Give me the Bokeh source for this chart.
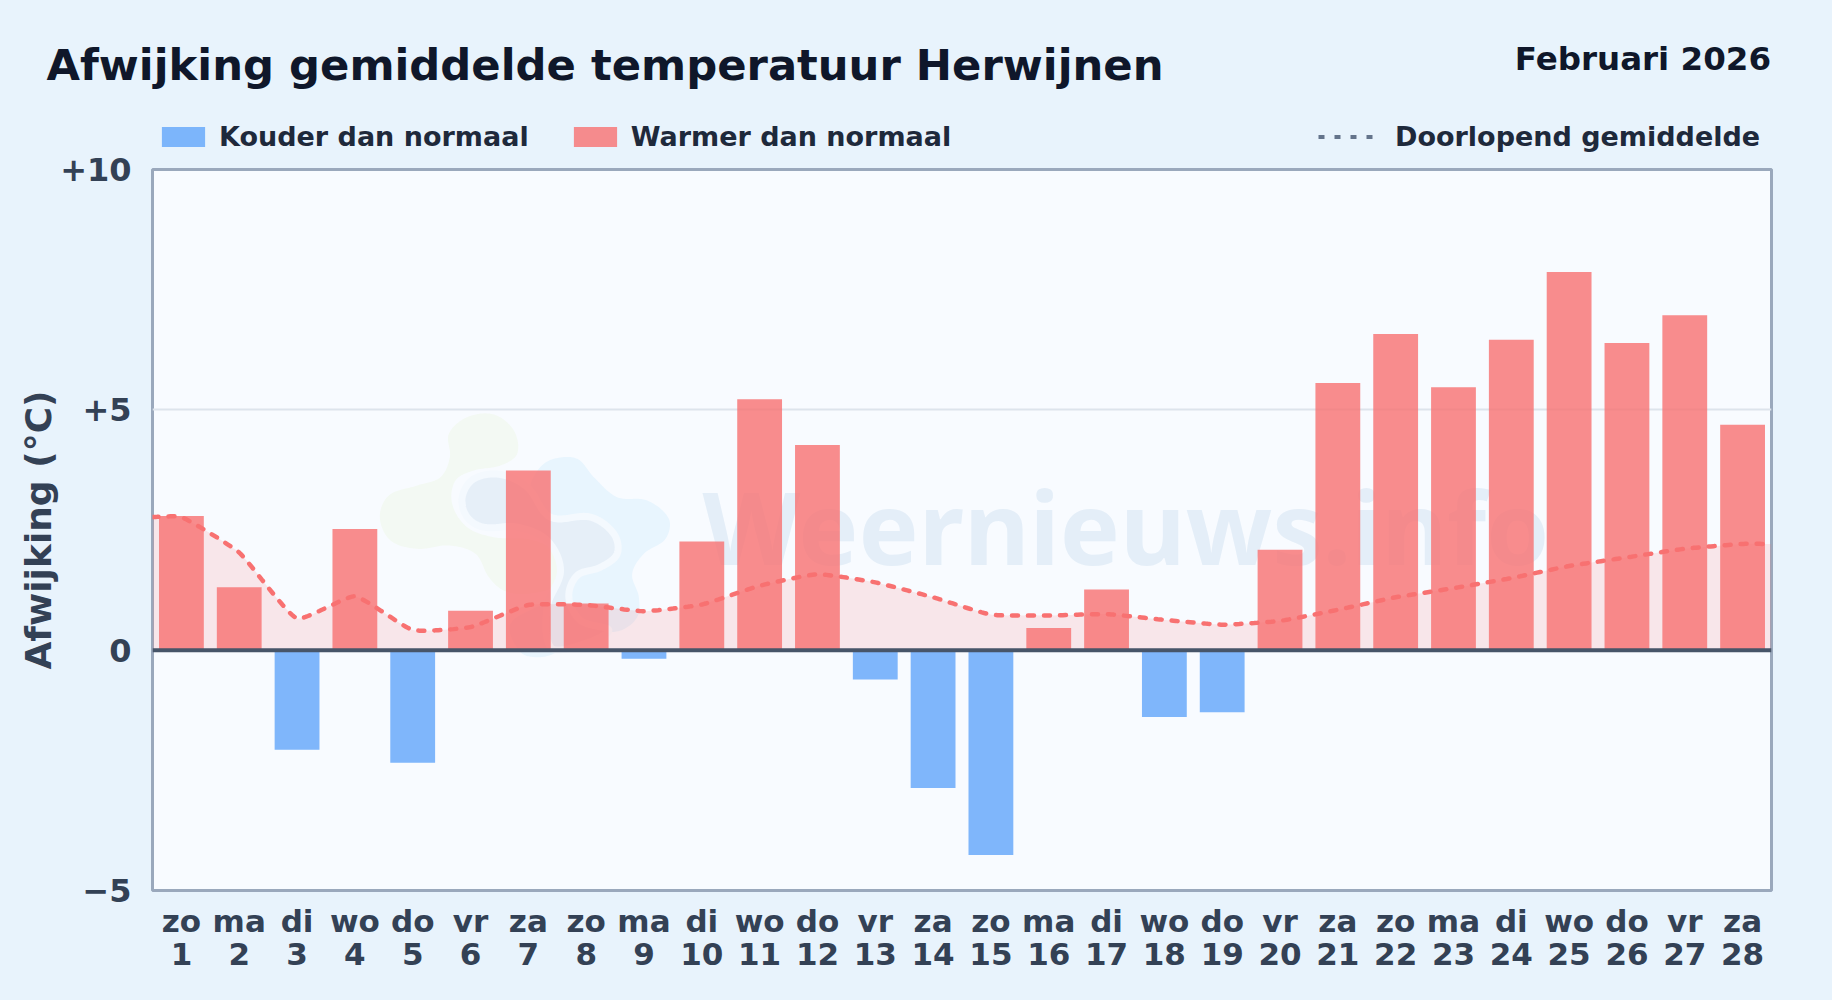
import numpy as np
from bokeh.plotting import figure
from bokeh.layouts import column
from bokeh.models import Range1d, FixedTicker, Label, Legend, LegendItem, Span, ColumnDataSource
from bokeh.embed import file_html
from bokeh.resources import INLINE

title_text = "Afwijking gemiddelde temperatuur Herwijnen"
period_text = "Februari 2026"
y_label = "Afwijking (°C)"
watermark_text = "Weernieuws.info"
legend_cold = "Kouder dan normaal"
legend_warm = "Warmer dan normaal"
legend_mean = "Doorlopend gemiddelde"
weekdays = ["zo","ma","di","wo","do","vr","za"] * 4
days = list(range(1, 29))
deviation = [2.79,1.31,-2.07,2.52,-2.34,0.82,3.74,0.97,-0.18,2.26,5.22,4.27,-0.61,-2.87,
             -4.26,0.46,1.26,-1.39,-1.29,2.09,5.56,6.58,5.47,6.46,7.87,6.39,6.97,4.69]
running_mean = [2.77,2.03,0.66,1.12,0.42,0.48,0.94,0.94,0.81,0.95,1.34,1.58,1.41,1.10,
                0.74,0.72,0.75,0.63,0.53,0.61,0.84,1.10,1.29,1.50,1.75,1.93,2.11,2.21]
y_ticks = [-5, 0, 5, 10]
y_tick_labels = {"-5": "\u22125", "0": "0", "5": "+5", "10": "+10"}

PAGE = "#e8f3fc"
PLOT = "#f8fbff"
FONT = "DejaVu Sans"
HEAD = 155
OVERLAP = 15
L, R, T, B = 152.0, 1771.0, 169.0, 890.0
X0, X1, Y0, Y1 = 0.5, 28.5, -5.0, 10.0

def dx(px): return X0 + (np.asarray(px, float) - L) / (R - L) * (X1 - X0)
def dy(py): return Y1 - (np.asarray(py, float) - T) / (B - T) * (Y1 - Y0)

def spline(xs, ys, t=0.15, n=24, closed=False):
    """Chart.js style curve through the points, in pixel-like space."""
    xs, ys = np.asarray(xs, float), np.asarray(ys, float)
    m = len(xs)
    pts = np.c_[xs, ys]
    cin, cout = np.zeros_like(pts), np.zeros_like(pts)
    for i in range(m):
        a = pts[(i-1) % m] if (closed or i > 0) else pts[i]
        b = pts[i]
        c = pts[(i+1) % m] if (closed or i < m-1) else pts[i]
        d1, d2 = np.hypot(*(b-a)), np.hypot(*(c-b))
        s = d1 + d2 or 1.0
        cin[i] = b - t * d1 / s * (c-a)
        cout[i] = b + t * d2 / s * (c-a)
    out = []
    u = np.linspace(0, 1, n, endpoint=False)[:, None]
    for i in range(m if closed else m-1):
        j = (i+1) % m
        out.append((1-u)**3*pts[i] + 3*(1-u)**2*u*cout[i] + 3*(1-u)*u**2*cin[j] + u**3*pts[j])
    out = np.vstack(out + ([] if closed else [pts[-1:]]))
    return out[:, 0], out[:, 1]

# ---------- header strip: title, period, legends ----------
h = figure(width=1832, height=HEAD, x_range=Range1d(0, 1832), y_range=Range1d(HEAD, 0),
           output_backend="svg", toolbar_location=None, frame_align=False,
           min_border_left=0, min_border_right=0, min_border_top=0, min_border_bottom=0,
           margin=(0, 0, -OVERLAP, 0), styles={"position": "relative", "z-index": "2"})
h.axis.visible = False
h.grid.visible = False
h.outline_line_color = None
h.background_fill_alpha = 0
h.border_fill_alpha = 0
h.add_layout(Label(x=46, y=64, text=title_text, text_font=FONT, text_font_style="bold",
                   text_font_size="43.3px", text_color="#0f172a", text_baseline="alphabetic"))
h.add_layout(Label(x=1770.5, y=58, text=period_text, text_font=FONT, text_font_style="bold",
                   text_font_size="32.5px", text_color="#0f172a", text_baseline="alphabetic", text_align="right"))
# legend keys: the marks themselves lie outside the strip, only their keys show
key_cold = h.vbar(x=[-50], top=[-50], width=1, fill_color="#60a5fa", fill_alpha=0.8, line_color=None)
key_warm = h.vbar(x=[-50], top=[-50], width=1, fill_color="#f87171", fill_alpha=0.8, line_color=None)
key_mean = h.line(x=[-50, -40], y=[-50, -50], line_color="#64748b", line_width=4, line_dash="6 10")
common = dict(orientation="horizontal", background_fill_alpha=0, border_line_color=None, padding=0, margin=0,
              glyph_width=54, glyph_height=25, label_standoff=9, label_text_font=FONT,
              label_text_font_style="bold", label_text_font_size="27px", label_text_color="#1e293b")
h.add_layout(Legend(items=[LegendItem(label=legend_cold, renderers=[key_cold]),
                           LegendItem(label=legend_warm, renderers=[key_warm])],
                    location=(156, 3), spacing=39, **common), "center")
h.add_layout(Legend(items=[LegendItem(label=legend_mean, renderers=[key_mean])],
                    location=(1318, 3), **{**common, "glyph_width": 56, "label_standoff": 21}), "center")

# ---------- main plot ----------
TOP = HEAD - OVERLAP
p = figure(width=1832, height=1000 - TOP, frame_width=1619, frame_height=721,
           x_range=Range1d(X0, X1), y_range=Range1d(Y0, Y1),
           output_backend="svg", toolbar_location=None, frame_align=False,
           min_border_left=152, min_border_right=61, min_border_top=169 - TOP, min_border_bottom=110)
p.background_fill_color = PLOT
p.border_fill_color = PAGE
p.outline_line_color = "#9aa8bc"
p.outline_line_width = 3

p.xaxis.ticker = FixedTicker(ticks=days)
p.xaxis.major_label_overrides = {d: f"{w}\n{d}" for d, w in zip(days, weekdays)}
p.yaxis.ticker = FixedTicker(ticks=y_ticks)
p.yaxis.major_label_overrides = {int(k): v for k, v in y_tick_labels.items()}
for ax in (p.xaxis[0], p.yaxis[0]):
    ax.axis_line_color = None
    ax.major_tick_line_color = None
    ax.minor_tick_line_color = None
    ax.major_label_text_font = FONT
    ax.major_label_text_font_style = "bold"
    ax.major_label_text_color = "#334155"
p.xaxis.major_label_text_font_size = "31px"
p.xaxis.major_label_text_line_height = 0.94
p.yaxis.major_label_text_font_size = "32px"
p.xaxis.major_label_standoff = 6
p.yaxis.major_label_standoff = 15
p.yaxis.axis_label = y_label
p.yaxis.axis_label_text_font = FONT
p.yaxis.axis_label_text_font_style = "bold"
p.yaxis.axis_label_text_font_size = "36px"
p.yaxis.axis_label_text_color = "#334155"
p.yaxis.axis_label_standoff = -2
p.xgrid.visible = False
p.ygrid.ticker = FixedTicker(ticks=[5])
p.ygrid.grid_line_color = "#dde4ec"
p.ygrid.grid_line_width = 2

# watermark (decorative logo + name)
def blob(points, fill, line=None, lw=0):
    xs, ys = zip(*[(360 + a/3, 390 + b/3) for a, b in points])
    sx, sy = spline(xs, ys, t=0.35, closed=True)
    p.patch(dx(sx), dy(sy), fill_color=fill, line_color=line, line_width=lw)

blob([(265,130),(320,80),(400,72),(460,120),(470,190),(420,225),(340,240),(285,270),(275,340),(320,410),
      (400,440),(520,450),(600,500),(590,580),(500,610),(430,600),(385,560),(345,490),(265,465),(170,475),(90,450),
      (58,380),(85,315),(170,285),(240,260),(268,200)], "#f3f9f3")
blob([(535,235),(580,205),(650,205),(700,260),(770,320),(860,330),(925,385),(915,445),(850,490),(815,550),
      (835,620),(830,680),(780,720),(680,730),(600,780),(540,800),(480,785),(450,700),(570,620),(620,500),(570,400),(510,300)], "#e8f5fe")
blob([(305,320),(340,265),(420,252),(500,290),(570,380),(690,380),(760,430),(770,490),(720,530),(650,555),(625,620),
      (660,690),(745,720),(640,770),(570,770),(560,650),(600,540),(560,450),(470,410),(370,410),(320,380)], "#e6eff8", "#f4f9fe", 7)
p.text(x=[dx(702)], y=[dy(525)], text=[watermark_text], text_font={"value": "Noto Sans"}, text_font_style="bold",
       text_font_size="101px", text_color="#e4eef8", text_baseline="alphabetic", text_align="left")

# running mean: area under a smooth line through the daily means, reaching both frame edges
lx = [X0] + days + [X1]
ly = [running_mean[0]] + running_mean + [running_mean[-1]]
pxx = (R - L) / (X1 - X0)
pyy = (B - T) / (Y1 - Y0)
sx, sy = spline(np.array(lx) * pxx, np.array(ly) * pyy)
curve_x, curve_y = sx / pxx, sy / pyy
p.varea(x=curve_x, y1=0 * curve_y, y2=curve_y, fill_color="#f87171", fill_alpha=0.15)

# bars
cold = ColumnDataSource(dict(x=[d for d, v in zip(days, deviation) if v < 0], top=[v for v in deviation if v < 0]))
warm = ColumnDataSource(dict(x=[d for d, v in zip(days, deviation) if v >= 0], top=[v for v in deviation if v >= 0]))
p.vbar(x="x", top="top", bottom=0, width=0.775, source=cold, fill_color="#60a5fa", fill_alpha=0.8, line_color=None)
p.vbar(x="x", top="top", bottom=0, width=0.775, source=warm, fill_color="#f87171", fill_alpha=0.8, line_color=None)

p.line(curve_x, curve_y, line_color="#f87171", line_width=4.5, line_dash="6 10", line_cap="round")
p.add_layout(Span(location=0, dimension="width", line_color="#475569", line_width=4))

page = column(h, p, spacing=0, styles={"background-color": PAGE})
open("out.html", "w").write(file_html(page, INLINE))
